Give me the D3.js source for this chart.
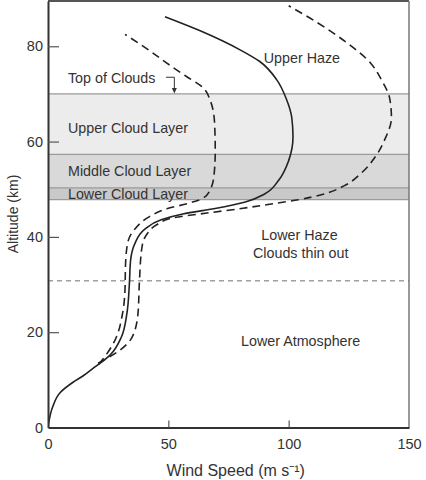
<!DOCTYPE html>
<html>
<head>
<meta charset="utf-8">
<script src="https://cdn.jsdelivr.net/npm/d3@7"></script>
<style>
  body { margin: 0; background: #fff; }
  text { font-family: "Liberation Sans", Arial, sans-serif; fill: #333; }
</style>
</head>
<body>
<div id="container"></div>
<script>
// wind speed (m/s), altitude (km)
const solidProfile = [
  [0, 0], [2, 4.4], [5, 7.3], [10.4, 9.5], [14.5, 10.8], [19.5, 12.7], [25.8, 15.2],
  [30.5, 19], [32.8, 24], [33.8, 30], [34.3, 35], [36, 38.5], [40, 41.5], [47, 43.6],
  [56, 44.8], [70, 46], [82, 47.3], [90, 49], [96, 52], [100, 56], [101.8, 61],
  [101.3, 65], [99, 69], [95, 73], [88, 76.8], [80, 79.2], [63, 83.3], [48.6, 86.2]
];
const innerDashed = [
  [21, 13.2], [24.5, 15.5], [27.8, 18.3], [31, 24], [32, 29], [32.2, 34], [33, 38.5],
  [36, 41.6], [42, 44.2], [49.4, 45.9], [58, 47], [64, 48], [67.5, 50], [69, 53],
  [69.5, 58], [69.2, 64], [67.5, 68.5], [64, 71.5], [57.7, 73.6], [50.7, 76],
  [41, 79.5], [32, 82.5]
];
const outerDashed = [
  [20.8, 13.5], [28.7, 15.8], [35, 19], [37.4, 24], [38, 30.8], [39, 37.7], [41, 40.5],
  [45, 42.5], [52, 44], [66, 45], [81, 46], [94, 47], [104, 47.8], [114, 48.9],
  [123, 50.7], [130, 53.3], [136, 56.8], [140, 60.5], [142.7, 65], [142, 69],
  [138.5, 73], [134, 76.5], [124, 80.8], [111.8, 85], [100, 88.5]
];
// cloud layers: [bottom km, top km]
const layerNames = ["Upper Cloud Layer", "Middle Cloud Layer", "Lower Cloud Layer"];
const layerBounds = [[57.3, 70], [50.3, 57.3], [47.8, 50.3]];
const layerFills = ["#ececec", "#d9d9d9", "#c9c9c9"];
const thinOutAltitude = 30.8;
const xTicks = [0, 50, 100, 150];
const yTicks = [0, 20, 40, 60, 80];

const width = 426, height = 480;
const marginLeft = 48, marginRight = 17, marginTop = 1, marginBottom = 52.5;

const x = d3.scaleLinear().domain([0, 150]).range([marginLeft, width - marginRight]);
const y = d3.scaleLinear().domain([0, 89.5]).range([height - marginBottom, marginTop]);

const svg = d3.create("svg").attr("width", width).attr("height", height);

svg.append("defs").append("clipPath").attr("id", "plot")
  .append("rect")
  .attr("x", x(0)).attr("y", y(89.5))
  .attr("width", x(150) - x(0)).attr("height", y(0) - y(89.5));

// cloud bands
svg.selectAll(".band")
  .data(layerBounds)
  .join("rect")
  .attr("class", "band")
  .attr("x", x(0))
  .attr("y", d => y(d[1]))
  .attr("width", x(150) - x(0))
  .attr("height", d => y(d[0]) - y(d[1]))
  .attr("fill", (d, i) => layerFills[i]);

const edges = [70, 57.3, 50.3, 47.8];
svg.selectAll(".edge")
  .data(edges)
  .join("line")
  .attr("x1", x(0)).attr("x2", x(150))
  .attr("y1", d => y(d)).attr("y2", d => y(d))
  .attr("stroke", "#9a9a9a").attr("stroke-width", 1.3);

// thin out line
svg.append("line")
  .attr("x1", x(0)).attr("x2", x(150))
  .attr("y1", y(thinOutAltitude)).attr("y2", y(thinOutAltitude))
  .attr("stroke", "#a0a0a0").attr("stroke-width", 1.3)
  .attr("stroke-dasharray", "5,4");

// profiles
const line = d3.line()
  .x(d => x(d[0]))
  .y(d => y(d[1]))
  .curve(d3.curveMonotoneY);

const g = svg.append("g").attr("clip-path", "url(#plot)");
g.append("path").attr("d", line(solidProfile))
  .attr("fill", "none").attr("stroke", "#222").attr("stroke-width", 1.6);
g.append("path").attr("d", line(innerDashed))
  .attr("fill", "none").attr("stroke", "#222").attr("stroke-width", 1.6)
  .attr("stroke-dasharray", "8,5");
g.append("path").attr("d", line(outerDashed))
  .attr("fill", "none").attr("stroke", "#222").attr("stroke-width", 1.6)
  .attr("stroke-dasharray", "8,5");

// frame
svg.append("line").attr("x1", x(0)).attr("x2", x(150)).attr("y1", y(89.5)).attr("y2", y(89.5))
  .attr("stroke", "#555").attr("stroke-width", 2);
svg.append("line").attr("x1", x(150)).attr("x2", x(150)).attr("y1", y(89.5)).attr("y2", y(0))
  .attr("stroke", "#777").attr("stroke-width", 1.5);

const xAxis = svg.append("g")
  .attr("transform", `translate(0,${y(0)})`)
  .call(d3.axisBottom(x).tickValues(xTicks).tickSizeInner(-7).tickSizeOuter(0).tickPadding(11));
const yAxis = svg.append("g")
  .attr("transform", `translate(${x(0)},0)`)
  .call(d3.axisLeft(y).tickValues(yTicks).tickSizeInner(-11).tickSizeOuter(0).tickPadding(5));

[xAxis, yAxis].forEach(a => {
  a.select(".domain").attr("stroke", "#333").attr("stroke-width", 2);
  a.selectAll(".tick line").attr("stroke", "#555").attr("stroke-width", 1.2);
  a.selectAll(".tick text").attr("font-size", 14.5).attr("fill", "#333")
    .style("font-family", "Liberation Sans, Arial, sans-serif");
});
xAxis.selectAll(".tick").filter(d => d === 0 || d === 150).select("line").remove();
yAxis.selectAll(".tick").filter(d => d === 0).select("line").remove();

// axis titles
svg.append("text")
  .attr("text-anchor", "middle")
  .attr("x", x(78))
  .attr("y", 475.5)
  .attr("font-size", 16)
  .text("Wind Speed (m s\u207B\u00B9)");

svg.append("text")
  .attr("text-anchor", "middle")
  .attr("transform", "rotate(-90)")
  .attr("x", -214)
  .attr("y", 18)
  .attr("font-size", 14)
  .text("Altitude (km)");

// layer labels
svg.selectAll(".layer-label")
  .data(layerNames)
  .join("text")
  .attr("x", x(8.3))
  .attr("y", (d, i) => i === 0 ? y(62.8) : y((layerBounds[i][0] + layerBounds[i][1]) / 2))
  .attr("dy", "0.36em")
  .attr("font-size", 14.3)
  .text(d => d);

const regions = [
  ["Upper Haze", 105.5, 77.5],
  ["Lower Haze", 104.5, 40.5],
  ["Clouds thin out", 105, 36.6],
  ["Lower Atmosphere", 105, 18.2]
];
svg.selectAll(".region")
  .data(regions)
  .join("text")
  .attr("text-anchor", "middle")
  .attr("x", d => x(d[1]))
  .attr("y", d => y(d[2]))
  .attr("dy", "0.36em")
  .attr("font-size", 14.3)
  .text(d => d[0]);

// Top of Clouds annotation
svg.append("text")
  .attr("x", x(8.3))
  .attr("y", y(73.4))
  .attr("dy", "0.36em")
  .attr("font-size", 14.3)
  .text("Top of Clouds");

svg.append("path")
  .attr("d", `M${x(49)},${y(73.5)}H${x(52.5)}V${y(70) - 3}`)
  .attr("fill", "none").attr("stroke", "#333").attr("stroke-width", 1);
svg.append("path")
  .attr("d", `M${x(52.5) - 2.5},${y(70) - 6}L${x(52.5) + 2.5},${y(70) - 6}L${x(52.5)},${y(70) - 0.5}Z`)
  .attr("fill", "#333");

document.querySelector("#container").appendChild(svg.node());
</script>
</body>
</html>
